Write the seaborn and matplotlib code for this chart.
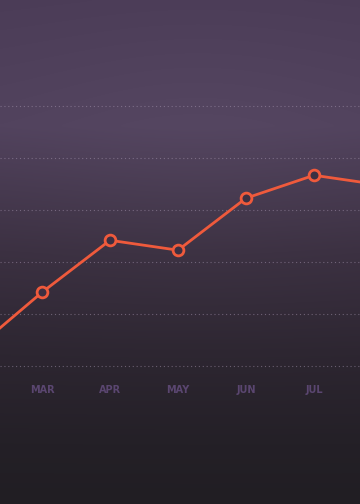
import numpy as np
import pandas as pd
import matplotlib.pyplot as plt
import seaborn as sns

months = ["FEB", "MAR", "APR", "MAY", "JUN", "JUL", "AUG"]
values = [3.1, 14.2, 24.2, 22.3, 32.3, 36.7, 34.8]
grid_vals = [0, 10, 20, 30, 40, 50]

df = pd.DataFrame({"idx": range(len(months)), "month": months, "value": values})

sns.set_theme(style="white")
fig = plt.figure(figsize=(3.6, 5.04), dpi=100)
ax = fig.add_axes([0, 0, 1, 1])

xlim = (1 - 42 / 68, 1 + 318 / 68)
ylim = (-26.5, 70.4)

# background: purple top fading to near-black
h, w = 252, 180
stops = [0.0, 0.25, 0.5, 0.7, 0.88, 1.0]
cols = np.array([[0x4b, 0x3c, 0x57], [0x51, 0x42, 0x5d], [0x3b, 0x30, 0x41],
                 [0x2d, 0x26, 0x31], [0x24, 0x20, 0x27], [0x21, 0x1e, 0x23]]) / 255
yy = np.linspace(0, 1, h)
col = np.stack([np.interp(yy, stops, cols[:, c]) for c in range(3)], axis=-1)
col = np.repeat(col[:, None, :], w, axis=1)
xx = np.linspace(0, 1, w)[None, :]
glow = np.exp(-(((xx - 0.55) / 0.5) ** 2 + ((yy[:, None] - 0.3) / 0.3) ** 2))[..., None]
col = np.clip(col + 0.015 * glow, 0, 1)
ax.imshow(col, extent=(xlim[0], xlim[1], ylim[0], ylim[1]), aspect="auto",
          interpolation="bicubic", zorder=0)

for g in grid_vals:
    ax.axhline(g, color="#a898b2", lw=0.8, ls=(0, (1, 2.5)), alpha=0.5, zorder=1)

sns.lineplot(data=df, x="idx", y="value", color="#ef5a3c", lw=2, ax=ax, zorder=3)
sns.scatterplot(data=df, x="idx", y="value", s=60, color="#3c3042",
                edgecolor="#ef5a3c", linewidth=2, ax=ax, zorder=4)

for i, m in zip(df["idx"], df["month"]):
    if xlim[0] < i < xlim[1] - 0.3:
        ax.text(i, (366 - 390) / 5.2, m, color="#5a4670", fontsize=7, fontweight="bold",
                ha="center", va="center", zorder=5)

ax.set_xlim(*xlim)
ax.set_ylim(*ylim)
ax.axis("off")
fig.savefig("out.png", dpi=100)
